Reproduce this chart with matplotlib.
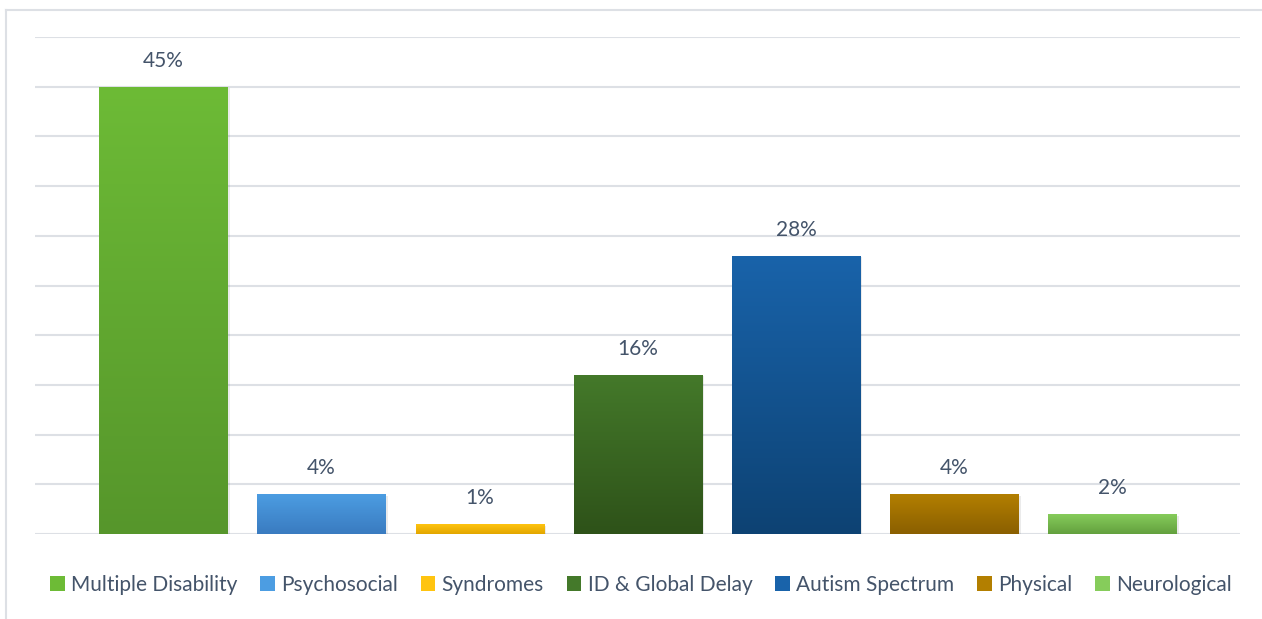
import numpy as np
import matplotlib
matplotlib.use("Agg")
import matplotlib.pyplot as plt
from matplotlib.colors import LinearSegmentedColormap
from matplotlib.patches import Rectangle
from matplotlib.lines import Line2D

categories = ["Multiple Disability", "Psychosocial", "Syndromes", "ID & Global Delay",
              "Autism Spectrum", "Physical", "Neurological"]
values = [45, 4, 1, 16, 28, 4, 2]
labels = ["45%", "4%", "1%", "16%", "28%", "4%", "2%"]
top_colors = ["#6DBB36", "#4C9DE2", "#FFC410", "#44792A", "#1963AA", "#B37F00", "#86CC5B"]
bottom_colors = ["#56962B", "#3A7BC0", "#E2A600", "#2E5219", "#0D4273", "#8A5F00", "#63A03E"]

plt.rcParams['font.family'] = ['Lato', 'DejaVu Sans']
text_color = "#44546A"
grid_color = "#DDE0E5"

fig = plt.figure(figsize=(12.62, 6.19), dpi=100)
W, H = 1262, 619
ax = fig.add_axes([35 / W, 1 - 534 / H, (1240 - 35) / W, (534 - 37) / H])

x = np.arange(len(categories))
width = 0.81
ax.set_xlim(-0.81, len(categories) - 1 + 0.806)
ax.set_ylim(0, 50)
ax.set_yticks(np.arange(0, 51, 5))
ax.yaxis.grid(True, color=grid_color, linewidth=1.5)
ax.set_axisbelow(True)
for s in ax.spines.values():
    s.set_visible(False)
ax.tick_params(left=False, bottom=False, labelleft=False, labelbottom=False)

bars = ax.bar(x, values, width=width, color="none", edgecolor="none", zorder=3)
grad = np.linspace(0, 1, 256).reshape(-1, 1)
for i, b in enumerate(bars):
    x0, y0 = b.get_x(), b.get_y()
    w, h = b.get_width(), b.get_height()
    sh = Rectangle((x0 + 0.015, y0), w, h - 0.15, facecolor="#000000", alpha=0.08,
                   edgecolor="none", zorder=2)
    ax.add_patch(sh)
    cmap = LinearSegmentedColormap.from_list("g%d" % i, [bottom_colors[i], top_colors[i]])
    im = ax.imshow(grad, cmap=cmap, aspect="auto", origin="lower",
                   extent=(x0, x0 + w, y0, y0 + h), zorder=3)
    im.set_clip_path(b)
    ax.text(x0 + w / 2, h + 1.6, labels[i], ha="center", va="bottom",
            fontsize=15, color=text_color, zorder=4)
ax.set_aspect("auto")
ax.set_xlim(-0.81, len(categories) - 1 + 0.806)
ax.set_ylim(0, 50)

handles = []
for i in range(len(categories)):
    handles.append(Rectangle((0, 0), 1, 1, facecolor=top_colors[i], edgecolor="none"))
leg = fig.legend(handles, categories, loc="center", bbox_to_anchor=(641 / W, 1 - 585 / H),
                 ncol=len(categories), frameon=False, fontsize=15, labelcolor=text_color,
                 handlelength=0.7, handleheight=0.7, handletextpad=0.3, columnspacing=1.1)

fig.add_artist(Line2D([6 / W, 1.0], [1 - 10 / H, 1 - 10 / H], color=grid_color, linewidth=1.5,
                      transform=fig.transFigure))
fig.add_artist(Line2D([6 / W, 6 / W], [1 - 10 / H, 0], color=grid_color, linewidth=1.5,
                      transform=fig.transFigure))

fig.savefig("out.png", dpi=100)
